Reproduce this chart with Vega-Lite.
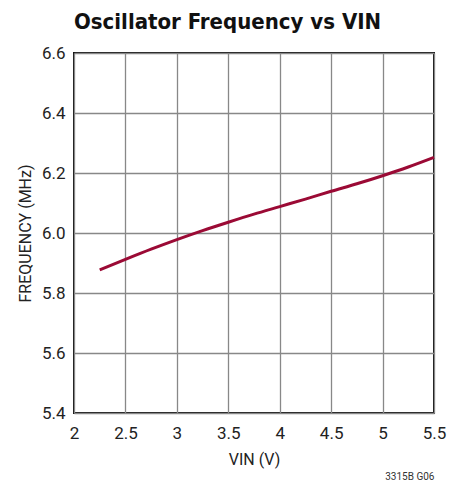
{
  "$schema": "https://vega.github.io/schema/vega-lite/v6.json",
  "autosize": "none",
  "width": 360,
  "height": 360,
  "padding": {"left": 74, "top": 53, "right": 28, "bottom": 67},
  "background": "white",
  "title": {
    "text": "Oscillator Frequency vs VIN",
    "anchor": "start",
    "frame": "group",
    "font": "DejaVu Sans Condensed",
    "fontSize": 22,
    "fontWeight": "bold",
    "color": "#111",
    "offset": 10
  },
  "config": {
    "view": {"stroke": "#111", "strokeWidth": 2},
    "axis": {
      "labelFont": "Roboto",
      "titleFont": "Roboto",
      "labelFontSize": 17,
      "titleFontSize": 16,
      "titleFontWeight": "normal",
      "labelColor": "#222",
      "titleColor": "#222",
      "gridColor": "#888",
      "gridWidth": 1.3,
      "gridOpacity": 1,
      "ticks": false,
      "domain": false
    }
  },
  "data": {
    "values": [
      {"vin": 2.25, "freq": 5.877},
      {"vin": 2.5, "freq": 5.912},
      {"vin": 2.75, "freq": 5.946},
      {"vin": 3.0, "freq": 5.978},
      {"vin": 3.25, "freq": 6.008},
      {"vin": 3.5, "freq": 6.036},
      {"vin": 3.75, "freq": 6.063},
      {"vin": 4.0, "freq": 6.088},
      {"vin": 4.25, "freq": 6.113},
      {"vin": 4.5, "freq": 6.139},
      {"vin": 4.75, "freq": 6.164},
      {"vin": 5.0, "freq": 6.191},
      {"vin": 5.25, "freq": 6.22},
      {"vin": 5.5, "freq": 6.252}
    ]
  },
  "resolve": {"axis": {"x": "independent"}},
  "layer": [
    {
      "mark": {"type": "line", "color": "#9b0a35", "strokeWidth": 3, "interpolate": "monotone"},
      "encoding": {
        "x": {
          "field": "vin", "type": "quantitative",
          "scale": {"domain": [2, 5.5], "nice": false, "zero": false},
          "axis": {"values": [2, 2.5, 3, 3.5, 4, 4.5, 5, 5.5], "format": ".1~f", "title": "VIN (V)", "labelPadding": 12, "titlePadding": 10, "labelFlush": false}
        },
        "y": {
          "field": "freq", "type": "quantitative",
          "scale": {"domain": [5.4, 6.6], "nice": false, "zero": false},
          "axis": {"values": [5.4, 5.6, 5.8, 6.0, 6.2, 6.4, 6.6], "format": ".1f", "title": "FREQUENCY (MHz)", "labelPadding": 9, "titlePadding": 8, "labelFlush": false}
        }
      }
    },
    {
      "mark": {"type": "line", "opacity": 0},
      "encoding": {
        "x": {
          "field": "vin", "type": "quantitative",
          "scale": {"domain": [2, 5.5], "nice": false, "zero": false},
          "axis": {"orient": "bottom", "labels": false, "grid": false, "title": "3315B G06", "titleFontSize": 10, "titleAnchor": "end", "titleAlign": "right", "titlePadding": 58, "titleColor": "#333"}
        },
        "y": {"field": "freq", "type": "quantitative"}
      }
    }
  ]
}
